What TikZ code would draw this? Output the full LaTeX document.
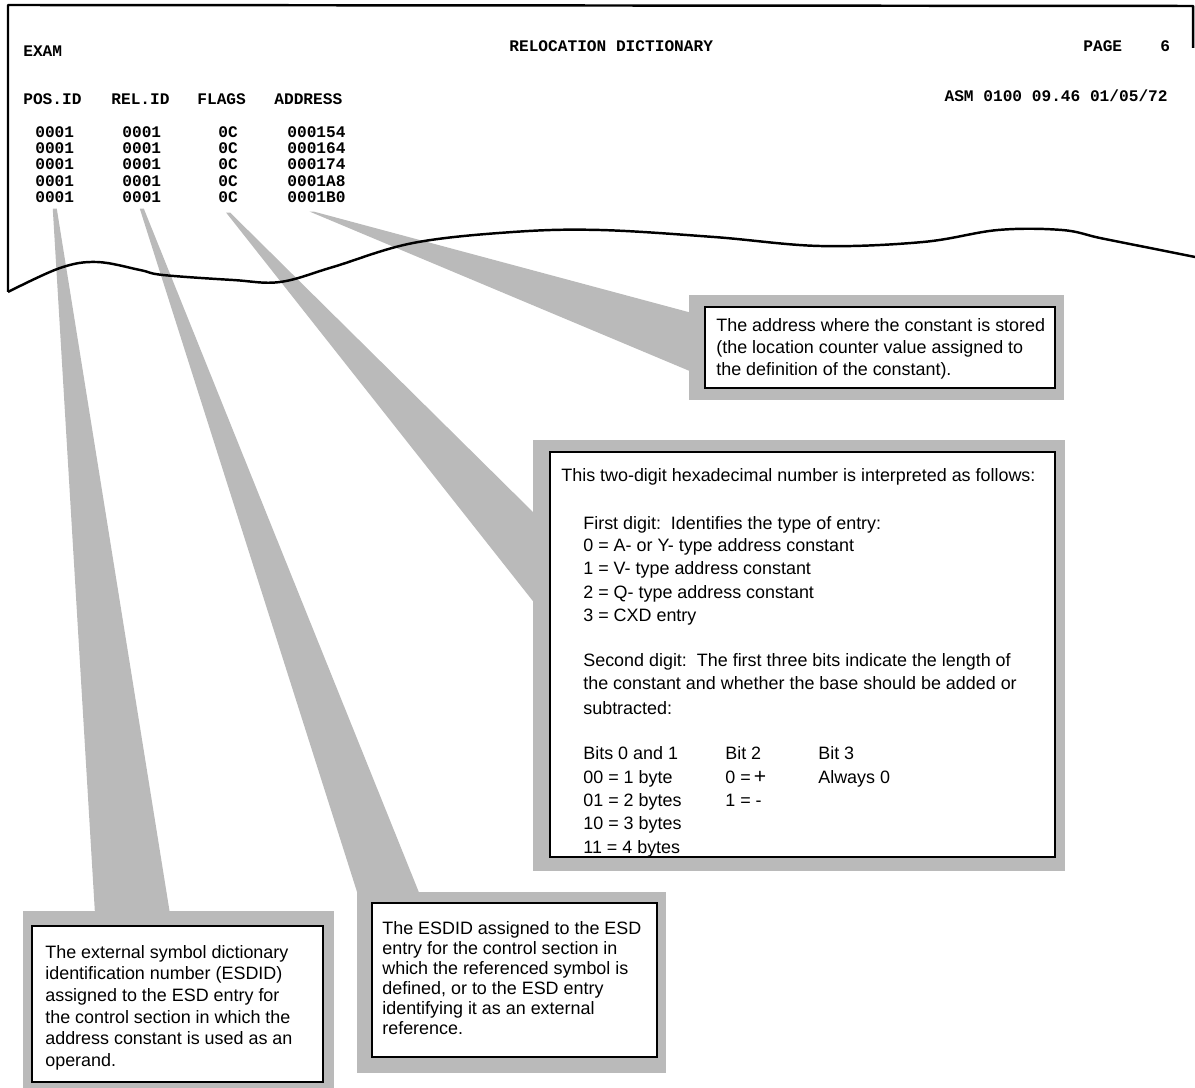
\documentclass[tikz,border=0pt]{standalone}
\usepackage{fontspec}
\setmainfont{Liberation Sans}
\newfontfamily\prtfont{Liberation Mono}
\usetikzlibrary{calc,fit,backgrounds}

\tikzset{
	prt/.style={font=\prtfont\bfseries\fontsize{9.2}{11}\selectfont, inner sep=0pt, anchor=base west},
	txt/.style={font=\fontsize{10.2}{12.5}\selectfont, inner sep=0pt, anchor=base west},
	callbox/.style={draw=black, line width=0.9pt, fill=white, inner sep=0pt},
	screen/.style={fill=black!27},
	paper/.style={line width=1.4pt, line join=round}
}

\begin{document}
\begin{tikzpicture}[x=0.02cm, y=-0.02cm]
		\useasboundingbox (0,0) rectangle (1195,1087);

		\node[prt] (exam) at (23,57) {EXAM};
		\node[prt] (title) at (509,52) {RELOCATION DICTIONARY};
		\node[prt] (page) at (1083,52) {PAGE};
		\node[prt] (pageno) at (1160,52) {6};
		\node[prt, anchor=base east] (stamp) at (1168,102) {ASM 0100 09.46 01/05/72};

		\foreach \name/\x/\value in {hpos/23/POS.ID, hrel/111/REL.ID, hflags/197/FLAGS, hadr/274/ADDRESS}
		{
			\node[prt] (\name) at (\x,105) {\value};
		}

		\foreach \y/\adr in {138/000154, 154/000164, 170/000174, 187/0001A8, 203/0001B0}
		{
			\node[prt] (pos\y) at (35,\y) {0001};
			\node[prt] (rel\y) at (122,\y) {0001};
			\node[prt] (flg\y) at (218,\y) {0C};
			\node[prt] (adr\y) at (287,\y) {\adr};
		}

		\draw[paper] (8,292) -- (8,5) -- (1193,6) -- (1193,48);
		\draw[paper] plot[smooth, tension=0.6] coordinates {(8,292) (60,268) (97,262) (140,270) (163,275) (233,280) (280,282) (333,267) (413,243) (513,232) (600,230) (714,237) (820,246) (923,242) (998,230) (1062,230) (1100,238) (1150,248) (1195,257)};

		\node[callbox, fit={(705,307) (1055,388)}] (boxA) {};
		\node[callbox, fit={(550,452) (1055,857)}] (boxB) {};
		\node[callbox, fit={(32,926) (323,1082)}] (boxC) {};
		\node[callbox, fit={(372,903) (657,1057)}] (boxD) {};

		\coordinate (aTop) at (692,313);
		\coordinate (aBot) at (692,372);
		\coordinate (bTop) at (536,515);
		\coordinate (bBot) at (536,605);
		\coordinate (cLeft) at (95,914);
		\coordinate (cRight) at (170,914);
		\coordinate (dLeft) at (358,895);
		\coordinate (dRight) at (420,895);

		\begin{scope}[on background layer]
			\foreach \b/\l/\t/\r/\d in {boxA/15/11/8/11, boxB/16/11/9/13, boxC/8/14/10/6, boxD/14/10/8/15}
			{
				\fill[screen] ($(\b.north west)+(-\l,-\t)$) rectangle ($(\b.south east)+(\r,\d)$);
			}
			\fill[screen] ($(pos203.south)+(-2,5)$) -- ($(pos203.south)+(2,5)$) -- (cRight) -- (cLeft) -- cycle;
			\fill[screen] ($(rel203.south)+(-2,5)$) -- ($(rel203.south)+(2,5)$) -- (dRight) -- (dLeft) -- cycle;
			\fill[screen] ($(flg203.south)+(-2,9)$) -- ($(flg203.south)+(2,9)$) -- (bTop) -- (bBot) -- cycle;
			\fill[screen] ($(adr203.south)+(-7,8)$) -- ($(adr203.south)+(-3,8)$) -- (aTop) -- (aBot) -- cycle;
		\end{scope}

		\foreach \y/\line [count=\i] in {332/{The address where the constant is stored}, 354/{(the location counter value assigned to}, 376/{the definition of the constant).}}
		{
			\node[txt] (a\i) at (716,\y) {\line};
		}

		\foreach \x/\y/\line [count=\i] in {561/481/{This two-digit hexadecimal number is interpreted as follows:},
			583/529/{First digit:\ \ Identifies the type of entry:}, 583/551/{0 = A- or Y- type address constant},
			583/574/{1 = V- type address constant}, 583/598/{2 = Q- type address constant}, 583/621/{3 = CXD entry},
			583/666/{Second digit:\ \ The first three bits indicate the length of},
			583/689/{the constant and whether the base should be added or}, 583/714/{subtracted:},
			583/759/{Bits 0 and 1}, 725/759/{Bit 2}, 818/759/{Bit 3},
			583/783/{00 = 1 byte}, 725/783/{0 =\,{\large +}}, 818/783/{Always 0},
			583/806/{01 = 2 bytes}, 725/806/{1 = -}, 583/829/{10 = 3 bytes}, 583/853/{11 = 4 bytes}}
		{
			\node[txt] (b\i) at (\x,\y) {\line};
		}

		\foreach \y/\line [count=\i] in {958/{The external symbol dictionary}, 979/{identification number (ESDID)}, 1001/{assigned to the ESD entry for}, 1023/{the control section in which the}, 1044/{address constant is used as an}, 1066/{operand.}}
		{
			\node[txt] (c\i) at (45,\y) {\line};
		}

		\foreach \y/\line [count=\i] in {934/{The ESDID assigned to the ESD}, 954/{entry for the control section in}, 974/{which the referenced symbol is}, 994/{defined, or to the ESD entry}, 1014/{identifying it as an external}, 1034/{reference.}}
		{
			\node[txt] (d\i) at (382,\y) {\line};
		}

	\end{tikzpicture}
\end{document}
